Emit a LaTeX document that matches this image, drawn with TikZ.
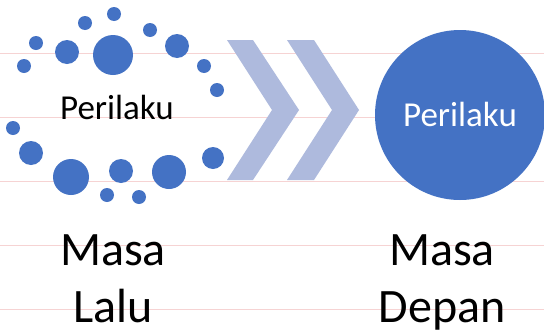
\documentclass[tikz,border=0pt]{standalone}
\usepackage{fontspec}
\setmainfont{Carlito}
\definecolor{dotblue}{HTML}{4472C4}
\definecolor{chev}{HTML}{AEBADD}
\definecolor{rule}{HTML}{F6D3D3}
\begin{document}
\begin{tikzpicture}[x=1pt,y=-1pt,
  dot/.style={fill=dotblue,draw=none},
  chevron/.style={fill=chev,draw=none},
  ruleline/.style={draw=rule,line width=0.8pt},
  small/.style={font=\fontsize{35}{40}\selectfont,inner sep=0pt},
  big/.style={font=\fontsize{48}{56}\selectfont,inner sep=0pt}]
\useasboundingbox (0,0) rectangle (544,335);
\fill[white] (0,0) rectangle (544,335);
% ruled lines
\foreach \yy in {53,117,181,245,309} \draw[ruleline] (0,\yy) -- (544,\yy);
% dots
\foreach \cx/\cy/\r in {114/14/7, 85/23/7, 150/30/7, 36/43/7, 67/52/12, 113/55/20,
  177/46/12, 24/66/7, 204/66/7, 217/90/7, 13/128/7, 31/153/12, 71/177/18,
  121/171/12, 169/172/17, 213/158/11, 107/195/7, 139/197/7}
  \fill[dot] (\cx,\cy) circle (\r);
\node[small,anchor=base] (pastlabel) at (117,119) {Perilaku};
% chevrons
\fill[chevron] (227,40) -- (253,40) -- (299,110) -- (253,180) -- (227,180) -- (272,110) -- cycle;
\fill[chevron] (287,40) -- (314,40) -- (359,110) -- (314,180) -- (287,180) -- (332,110) -- cycle;
% future circle
\fill[dotblue] (460,115) circle (85);
\node[small,anchor=base,text=white] (futurelabel) at (460,126) {Perilaku};
% captions
\node[big,anchor=base] (masa1) at (113,265) {Masa};
\node[big,anchor=base] (lalu) at (113,322) {Lalu};
\node[big,anchor=base] (masa2) at (442,265) {Masa};
\node[big,anchor=base] (depan) at (442,322) {Depan};
\end{tikzpicture}
\end{document}
